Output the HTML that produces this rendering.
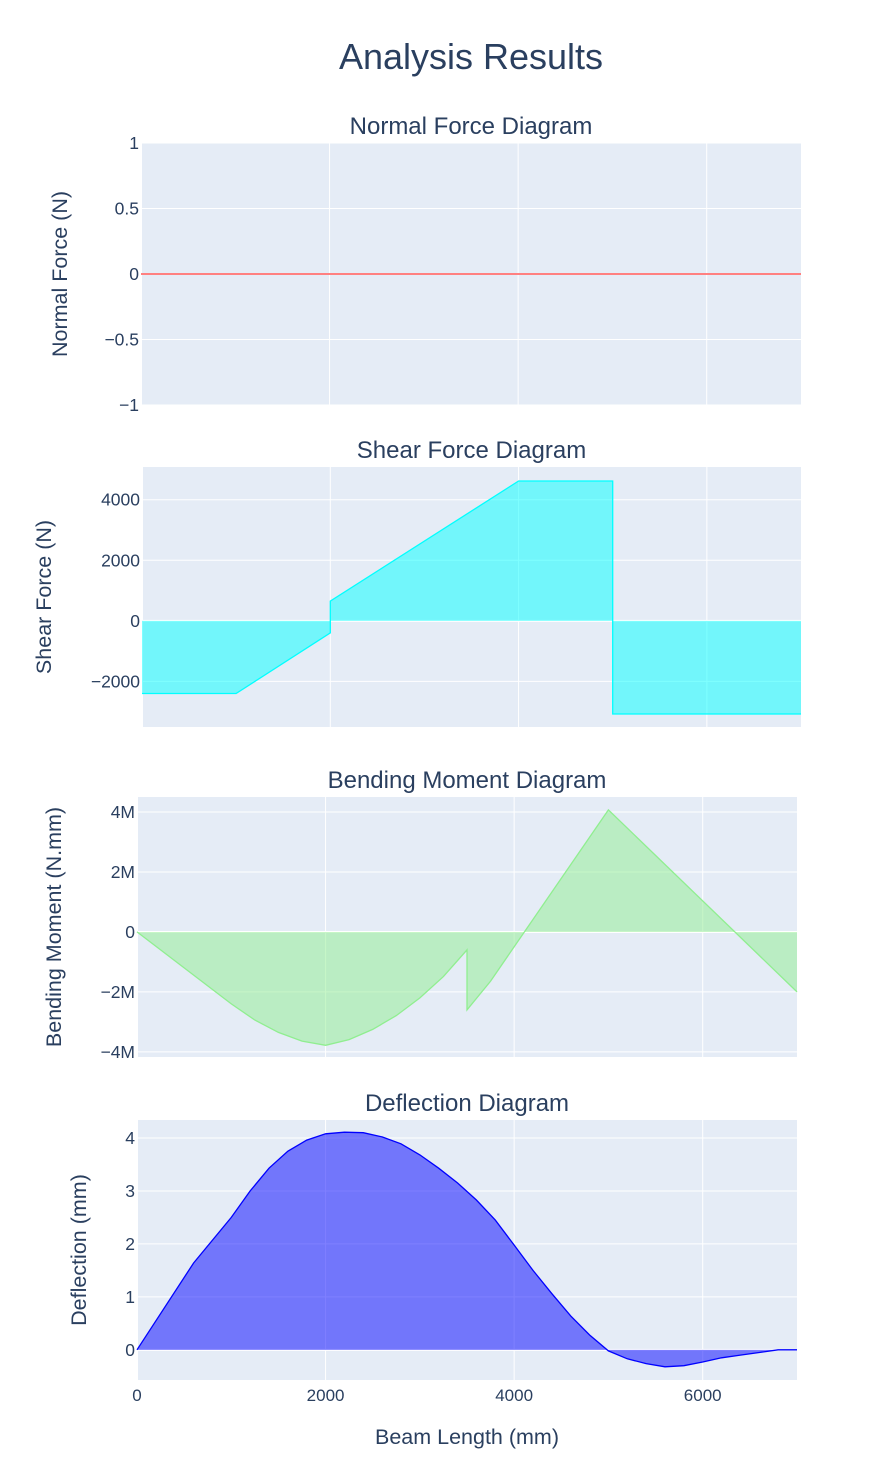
<!DOCTYPE html>
<html><head><meta charset="utf-8"><style>
html,body{margin:0;padding:0;background:#fff;}
svg{display:block;font-family:"Liberation Sans",sans-serif;}
</style></head><body>
<svg id="chart" width="882" height="1474">
<text x="471" y="69" text-anchor="middle" font-size="36" fill="#2a3f5f">Analysis Results</text>
</svg>
<script>
const NS="http://www.w3.org/2000/svg";
const svg=document.getElementById('chart');
// Data
const normalX=[0,7000];
const normalY=[0,0];
const shearX=[0,1000,2000,2000,4000,5000,5000,7000];
const shearY=[-2400,-2400,-400,650,4620,4620,-3080,-3080];
const momentX=[0,1000,1250,1500,1750,2000,2250,2500,2750,3000,3250,3500,3500,3750,4000,5000,7000];
const momentY=[0,-2.4,-2.94,-3.35,-3.64,-3.78,-3.59,-3.25,-2.79,-2.2,-1.49,-0.6,-2.6,-1.64,-0.5,4.07,-2.0];
const deflX=[0,600,1000,1200,1400,1600,1800,2000,2200,2400,2600,2800,3000,3200,3400,3600,3800,4000,4200,4400,4600,4800,5000,5200,5400,5600,5800,6000,6200,6400,6600,6800,7000];
const deflY=[0,1.64,2.5,3.0,3.43,3.75,3.96,4.08,4.11,4.1,4.02,3.89,3.68,3.43,3.15,2.83,2.45,1.98,1.5,1.06,0.64,0.28,-0.02,-0.17,-0.26,-0.32,-0.3,-0.23,-0.15,-0.1,-0.05,0,0];
const xTicks=[0,2000,4000,6000];
const normalTicks=[1,0.5,0,-0.5,-1];
const normalTickLabels=['1','0.5','0','−0.5','−1'];
const shearTicks=[4000,2000,0,-2000];
const shearTickLabels=['4000','2000','0','−2000'];
const momentTicks=[4,2,0,-2,-4];
const momentTickLabels=['4M','2M','0','−2M','−4M'];
const deflTicks=[4,3,2,1,0];
const deflTickLabels=['4','3','2','1','0'];

function el(tag,attrs,parent){const e=document.createElementNS(NS,tag);for(const k in attrs)e.setAttribute(k,attrs[k]);(parent||svg).appendChild(e);return e;}

const panels=[
 {key:'normal',title:'Normal Force Diagram',ytitle:'Normal Force (N)',x0:141,x1:801,y0:143,y1:405,ymin:-1,ymax:1,xs:normalX,ys:normalY,ticks:normalTicks,labels:normalTickLabels,line:'#ff0000',fill:null,ytx:67,xlabels:false},
 {key:'shear',title:'Shear Force Diagram',ytitle:'Shear Force (N)',x0:142,x1:801,y0:467,y1:727,ymin:-3508,ymax:5082,xs:shearX,ys:shearY,ticks:shearTicks,labels:shearTickLabels,line:'#00ffff',fill:'rgba(0,255,255,0.5)',ytx:51,xlabels:false},
 {key:'moment',title:'Bending Moment Diagram',ytitle:'Bending Moment (N.mm)',x0:137,x1:797,y0:797,y1:1057,ymin:-4.17,ymax:4.5,xs:momentX,ys:momentY,ticks:momentTicks,labels:momentTickLabels,line:'#90ee90',fill:'rgba(144,238,144,0.5)',ytx:61,xlabels:false},
 {key:'deflection',title:'Deflection Diagram',ytitle:'Deflection (mm)',x0:137,x1:797,y0:1120,y1:1380,ymin:-0.57,ymax:4.34,xs:deflX,ys:deflY,ticks:deflTicks,labels:deflTickLabels,line:'#0000ff',fill:'rgba(0,0,255,0.5)',ytx:86,xlabels:true}
];

panels.forEach(p=>{
  const sx=v=>p.x0+(v/7000)*(p.x1-p.x0);
  const sy=v=>p.y1-(v-p.ymin)/(p.ymax-p.ymin)*(p.y1-p.y0);
  const g=el('g',{});
  
  
  const bg=el('rect',{x:p.x0,y:p.y0,width:p.x1-p.x0,height:p.y1-p.y0,fill:'#e5ecf6'},g);
  
  
  xTicks.forEach(t=>{
    const l=el('line',{x1:sx(t),x2:sx(t),y1:p.y0,y2:p.y1,stroke:'#fff','stroke-width':t===0?2:1},g);
    
    
    if(p.xlabels){
      const tx=el('text',{x:sx(t),y:p.y1+21,'text-anchor':'middle','font-size':17,fill:'#2a3f5f'},g);
      tx.textContent=String(t);
      
      
    }
  });
  p.ticks.forEach((t,i)=>{
    const l=el('line',{x1:p.x0,x2:p.x1,y1:sy(t),y2:sy(t),stroke:'#fff','stroke-width':t===0?2:1},g);
    
    
    const tx=el('text',{x:p.x0-2,y:sy(t)+6,'text-anchor':'end','font-size':17.5,fill:'#2a3f5f'},g);
    tx.textContent=p.labels[i];
    
    
  });
  const pts=p.xs.map((x,i)=>sx(x).toFixed(1)+','+sy(p.ys[i]).toFixed(1));
  if(p.fill){
    const poly=el('polygon',{points:sx(p.xs[0])+','+sy(0)+' '+pts.join(' ')+' '+sx(p.xs[p.xs.length-1])+','+sy(0),fill:p.fill,stroke:'none'},g);
    
    
  }
  const pl=el('polyline',{points:pts.join(' '),fill:'none',stroke:p.line,'stroke-width':p.fill?1.3:1},g);
  
  
  const tt=el('text',{x:(p.x0+p.x1)/2,y:p.y0-9,'text-anchor':'middle','font-size':24,fill:'#2a3f5f'},g);
  tt.textContent=p.title;
  
  
  const cy=(p.y0+p.y1)/2;
  const yt=el('text',{x:p.ytx,y:cy,'text-anchor':'middle','font-size':21.5,fill:'#2a3f5f',transform:'rotate(-90 '+p.ytx+' '+cy+')'},g);
  yt.textContent=p.ytitle;
  
  
});
const xt=el('text',{x:467,y:1444,'text-anchor':'middle','font-size':21.5,fill:'#2a3f5f'});
xt.textContent='Beam Length (mm)';


</script>
</body></html>
